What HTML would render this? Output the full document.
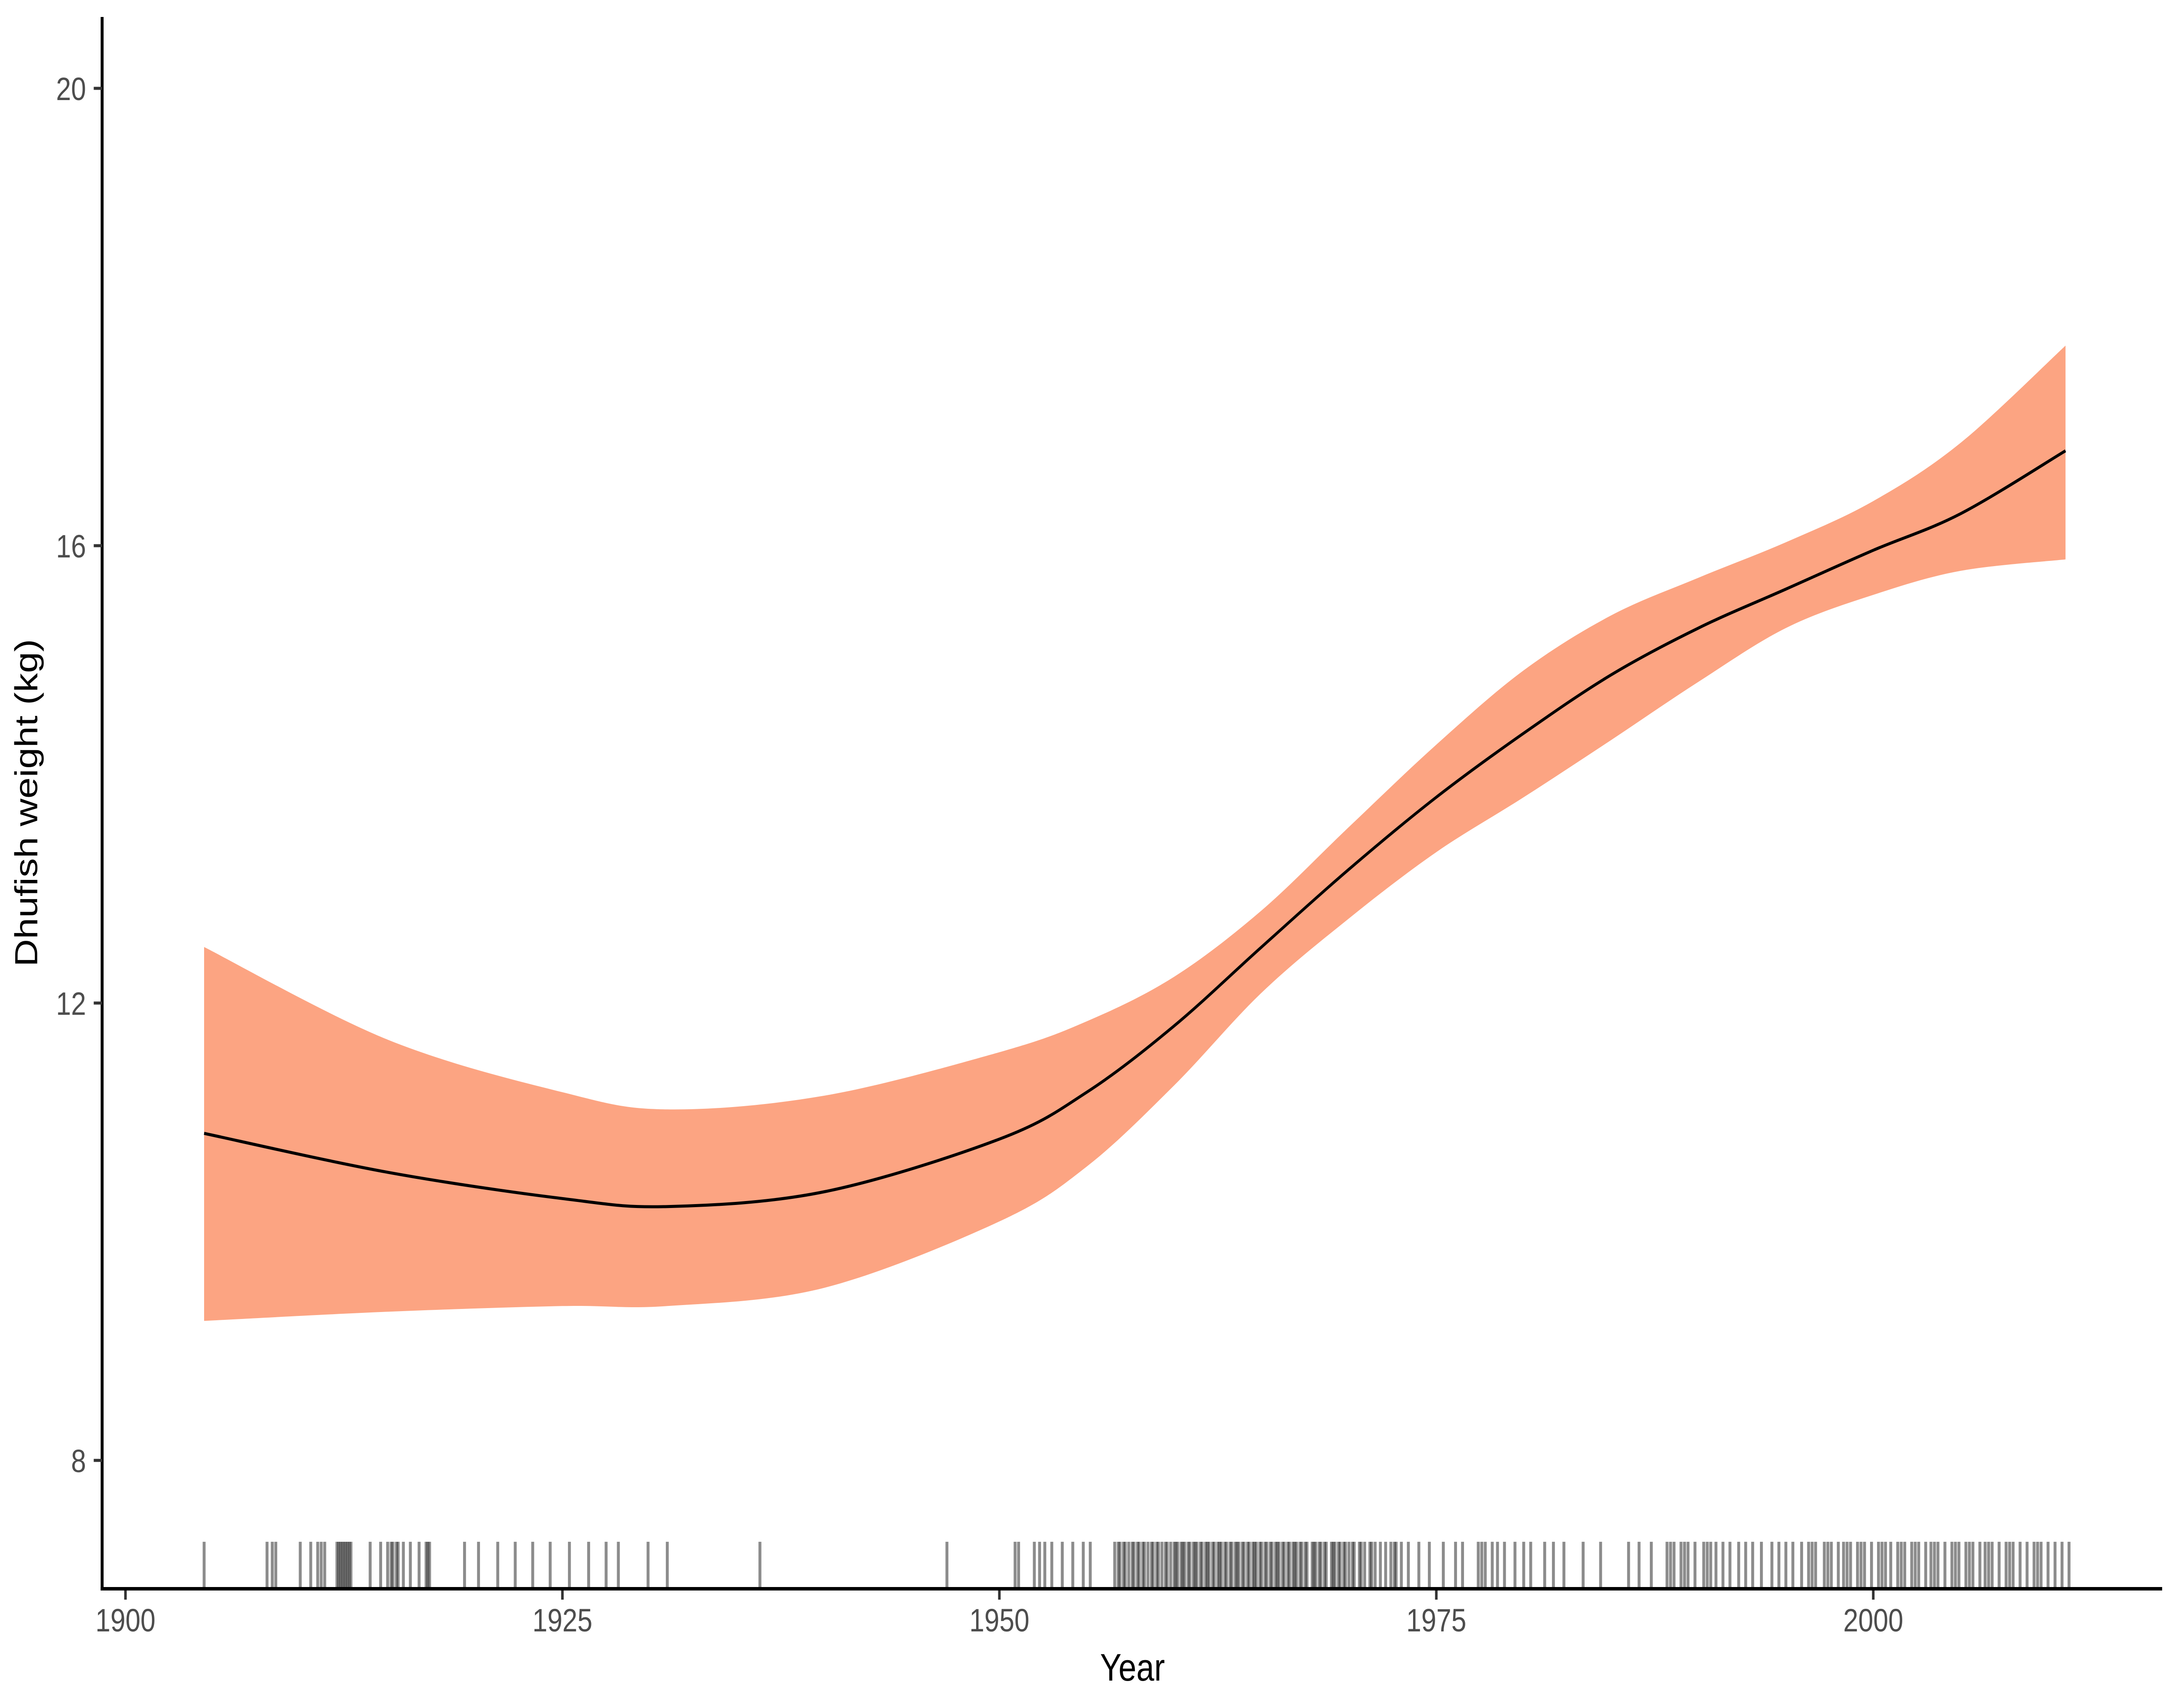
<!DOCTYPE html>
<html><head><meta charset="utf-8">
<style>
html,body{margin:0;padding:0;background:#fff;overflow:hidden;width:100%;height:100%;}
svg{display:block;position:fixed;left:0;top:0;width:100vw;height:100vh;font-family:"Liberation Sans",Arial,sans-serif;}
</style></head>
<body>
<svg id="chart" viewBox="0 0 5966 3925" preserveAspectRatio="none" xmlns="http://www.w3.org/2000/svg">
<rect width="5966" height="3925" fill="#fff"/>
<g id="ribbon-g"></g>
<g id="line-g"></g>
<g id="rug-g"></g>
<g id="axes-g"></g>
<text x="3105" y="3862" font-size="88" text-anchor="middle" fill="#000">Year</text>
<text transform="translate(102,1845) rotate(-90)" font-size="88" text-anchor="middle" fill="#000">Dhufish weight (kg)</text>
</svg>
<script>
const years = [1904.5,1915,1925,1931,1940,1950,1955,1960,1965,1970,1975,1980,1985,1990,1995,2000,2005,2011];
const fitValues = [10.86,10.52,10.29,10.22,10.35,10.81,11.22,11.80,12.49,13.17,13.80,14.36,14.87,15.28,15.62,15.96,16.28,16.83];
const upperValues = [12.49,11.68,11.22,11.07,11.19,11.57,11.84,12.23,12.81,13.54,14.26,14.91,15.39,15.72,16.03,16.39,16.90,17.75];
const lowerValues = [9.22,9.30,9.35,9.35,9.51,10.09,10.57,11.28,12.09,12.74,13.32,13.80,14.30,14.81,15.28,15.57,15.78,15.88];
const xTicks = [1900,1925,1950,1975,2000];
const yTicks = [8,12,16,20];
const rugYears = [1904.5,1908.1,1908.4,1908.6,1910.0,1910.6,1911.0,1911.2,1911.4,1912.1,1912.2,1912.3,1912.4,1912.5,1912.6,1912.7,1912.8,1912.9,1914.0,1914.6,1915.0,1915.2,1915.3,1915.5,1915.6,1915.9,1916.3,1916.8,1917.2,1917.3,1917.4,1919.4,1920.2,1921.3,1922.3,1923.3,1924.3,1925.4,1926.5,1927.5,1928.2,1929.9,1931.0,1936.3,1947.0,1950.9,1951.1,1952.0,1952.3,1952.6,1953.0,1953.6,1954.2,1954.8,1955.2,
1956.6,1956.8,1956.9,1957.1,1957.2,1957.4,1957.6,1957.7,1957.9,1958.0,1958.2,1958.3,1958.5,1958.7,1958.8,1959.0,1959.1,1959.3,1959.5,1959.6,1959.8,1960.0,1960.1,1960.2,1960.4,1960.5,1960.6,1960.8,1960.9,1961.1,1961.2,1961.3,1961.5,1961.6,1961.8,1961.9,1962.0,1962.2,1962.3,1962.5,1962.6,1962.7,1962.9,1963.0,1963.2,1963.3,1963.5,1963.6,1963.7,1963.9,1964.0,1964.2,1964.3,1964.5,1964.6,1964.7,1964.9,1965.0,1965.2,1965.3,1965.5,1965.6,1965.8,1965.9,1966.0,1966.2,1966.3,1966.5,1966.6,1966.8,1966.9,1967.0,1967.2,1967.3,1967.5,1967.6,1967.9,1968.0,1968.1,1968.3,1968.4,1968.6,1968.7,1969.0,1969.1,1969.2,1969.4,1969.5,1969.7,1969.8,1970.0,1970.2,1970.3,1970.6,1970.7,1970.9,1971.2,1971.3,1971.5,1971.8,1972.1,1972.4,1972.6,1972.7,1973.0,1973.4,1974.0,1974.6,1975.4,1976.1,1976.5,1977.4,1977.6,1977.8,1978.2,1978.5,1978.9,1979.5,1980.0,1980.4,1981.2,1981.7,1982.3,1983.4,1984.4,1986.0,1986.6,1987.3,1988.2,1988.4,1988.6,1989.0,1989.2,1989.4,1989.8,1990.3,1990.5,1990.7,1991.0,1991.4,1991.8,1992.3,1992.7,1993.1,1993.6,1994.2,1994.6,1995.0,1995.4,1995.9,1996.3,1996.5,1996.7,1997.2,1997.4,1997.6,1998.0,1998.3,1998.5,1998.7,1999.1,1999.3,1999.5,1999.9,2000.3,2000.5,2000.7,2001.0,2001.4,2001.6,2001.8,2002.2,2002.4,2002.6,2003.0,2003.3,2003.5,2003.7,2004.1,2004.5,2004.7,2004.9,2005.3,2005.5,2005.7,2006.1,2006.4,2006.6,2006.8,2007.2,2007.6,2007.8,2008.0,2008.4,2008.8,2009.2,2009.4,2009.6,2010.0,2010.4,2010.8,2011.2];

const NS = "http://www.w3.org/2000/svg";
const xScale = y => 344 + (y - 1900) * 47.92;
const yScale = v => 203 + (20 - v) * 262.75;

function smoothPath(xs, ys) {
  let d = "M" + xs[0].toFixed(1) + "," + ys[0].toFixed(1);
  for (let i = 0; i < xs.length - 1; i++) {
    const x0 = xs[Math.max(i-1,0)], y0 = ys[Math.max(i-1,0)];
    const x1 = xs[i], y1 = ys[i], x2 = xs[i+1], y2 = ys[i+1];
    const x3 = xs[Math.min(i+2,xs.length-1)], y3 = ys[Math.min(i+2,xs.length-1)];
    const c1x = x1 + (x2-x0)/6, c1y = y1 + (y2-y0)/6;
    const c2x = x2 - (x3-x1)/6, c2y = y2 - (y3-y1)/6;
    d += " C" + c1x.toFixed(1)+","+c1y.toFixed(1)+" "+c2x.toFixed(1)+","+c2y.toFixed(1)+" "+x2.toFixed(1)+","+y2.toFixed(1);
  }
  return d;
}

const px = years.map(xScale);
const upY = upperValues.map(yScale);
const loY = lowerValues.map(yScale);
const upPath = smoothPath(px, upY);
const loPath = smoothPath(px.slice().reverse(), loY.slice().reverse());
const band = document.createElementNS(NS, "path");
band.setAttribute("d", upPath + " L" + loPath.slice(1) + " Z");
band.setAttribute("fill", "#FCA482");


document.getElementById("ribbon-g").appendChild(band);

const fit = document.createElementNS(NS, "path");
fit.setAttribute("d", smoothPath(px, fitValues.map(yScale)));
fit.setAttribute("fill", "none");
fit.setAttribute("stroke", "#000");
fit.setAttribute("stroke-width", "7");


document.getElementById("line-g").appendChild(fit);

const rug = document.getElementById("rug-g");
rugYears.forEach(yr => {
  const l = document.createElementNS(NS, "line");
  const x = xScale(yr);
  l.setAttribute("x1", x); l.setAttribute("x2", x);
  l.setAttribute("y1", 3543); l.setAttribute("y2", 3648);
  l.setAttribute("stroke", "#000");
  l.setAttribute("stroke-opacity", "0.45");
  l.setAttribute("stroke-width", "8");
  
  
  rug.appendChild(l);
});

const ax = document.getElementById("axes-g");
const yl = document.createElementNS(NS, "line");
yl.setAttribute("x1", 280); yl.setAttribute("x2", 280); yl.setAttribute("y1", 39); yl.setAttribute("y2", 3655);
yl.setAttribute("stroke", "#000"); yl.setAttribute("stroke-width", "8");


ax.appendChild(yl);
const xl = document.createElementNS(NS, "line");
xl.setAttribute("x1", 276); xl.setAttribute("x2", 5928); xl.setAttribute("y1", 3651); xl.setAttribute("y2", 3651);
xl.setAttribute("stroke", "#000"); xl.setAttribute("stroke-width", "8");


ax.appendChild(xl);

xTicks.forEach(t => {
  const x = xScale(t);
  const tk = document.createElementNS(NS, "line");
  tk.setAttribute("x1", x); tk.setAttribute("x2", x); tk.setAttribute("y1", 3655); tk.setAttribute("y2", 3676);
  tk.setAttribute("stroke", "#333"); tk.setAttribute("stroke-width", "7");
  
  
  ax.appendChild(tk);
  const tx = document.createElementNS(NS, "text");
  tx.setAttribute("x", x); tx.setAttribute("y", 3749);
  tx.setAttribute("font-size", "74"); tx.setAttribute("text-anchor", "middle"); tx.setAttribute("fill", "#4d4d4d");
  
  
  tx.textContent = t;
  ax.appendChild(tx);
});
yTicks.forEach(t => {
  const y = yScale(t);
  const tk = document.createElementNS(NS, "line");
  tk.setAttribute("x1", 257); tk.setAttribute("x2", 280); tk.setAttribute("y1", y); tk.setAttribute("y2", y);
  tk.setAttribute("stroke", "#333"); tk.setAttribute("stroke-width", "7");
  
  
  ax.appendChild(tk);
  const tx = document.createElementNS(NS, "text");
  tx.setAttribute("x", 236); tx.setAttribute("y", y + 27);
  tx.setAttribute("font-size", "74"); tx.setAttribute("text-anchor", "end"); tx.setAttribute("fill", "#4d4d4d");
  
  
  tx.textContent = t;
  ax.appendChild(tx);
});
</script>
</body></html>
